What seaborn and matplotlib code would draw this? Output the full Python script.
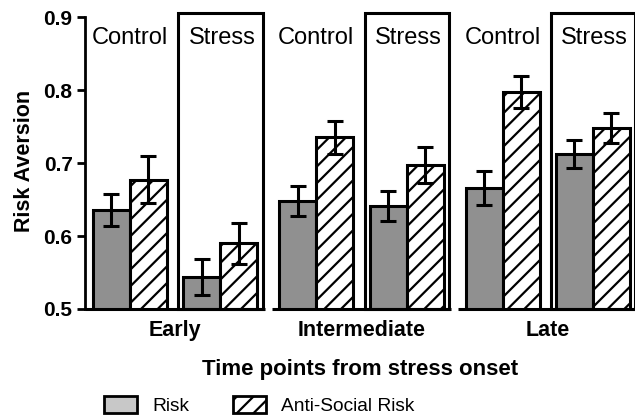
import numpy as np
import pandas as pd
import matplotlib
matplotlib.use("Agg")
import matplotlib.pyplot as plt
from matplotlib.patches import Rectangle, Patch
import seaborn as sns

# data
timepoints = ["Early", "Intermediate", "Late"]
conditions = ["Control", "Stress"]
measures = ["Risk", "Anti-Social Risk"]
risk_mean = [0.636, 0.544, 0.648, 0.641, 0.666, 0.712]
risk_err = [0.022, 0.025, 0.020, 0.021, 0.023, 0.019]
anti_mean = [0.677, 0.590, 0.735, 0.697, 0.797, 0.748]
anti_err = [0.032, 0.028, 0.022, 0.025, 0.022, 0.021]

# layout (bar width = 1 unit)
GAP = 5.035
OFF = 2.44
pair_pos = [g * GAP + c * OFF for g in range(3) for c in range(2)]

rows = []
for i, p in enumerate(pair_pos):
    rows.append({"pos": p, "measure": measures[0], "value": risk_mean[i], "err": risk_err[i]})
    rows.append({"pos": p, "measure": measures[1], "value": anti_mean[i], "err": anti_err[i]})
df = pd.DataFrame(rows)

sns.set_style("white")
plt.rcParams["font.family"] = ["Liberation Sans", "DejaVu Sans"]
plt.rcParams["hatch.linewidth"] = 1.6
plt.rcParams["text.color"] = "black"
plt.rcParams["axes.labelcolor"] = "black"
plt.rcParams["xtick.color"] = "black"
plt.rcParams["ytick.color"] = "black"

fig = plt.figure(figsize=(6.35, 4.18), dpi=100)
ax = fig.add_axes([85 / 635, 109 / 418, 550 / 635, 296 / 418])

gray = "#909090"
sns.barplot(data=df, x="pos", y="value", hue="measure", native_scale=True,
            dodge=True, width=2 / OFF, palette=[gray, "white"],
            edgecolor="black", linewidth=2.2, legend=False, ax=ax)

# hatch the anti-social bars and add error bars
for patch in ax.patches:
    if patch.get_facecolor()[0] > 0.9:
        patch.set_hatch("//")
bar_x = sorted([p.get_x() + p.get_width() / 2 for p in ax.patches])
risk_x = bar_x[0::2]
anti_x = bar_x[1::2]
ax.errorbar(risk_x, risk_mean, yerr=risk_err, fmt="none", ecolor="black",
            elinewidth=2.2, capsize=6, capthick=2.2, zorder=5)
ax.errorbar(anti_x, anti_mean, yerr=anti_err, fmt="none", ecolor="black",
            elinewidth=2.2, capsize=6, capthick=2.2, zorder=5)

ax.set_ylim(0.5, 0.9055)
ax.set_xlim(-1.216, 13.65)

# stress boxes and broken baselines
for g in range(3):
    sx = g * GAP + OFF
    ax.add_patch(Rectangle((sx - 1.13, 0.5), 2.28, 0.4055, fill=False,
                           edgecolor="black", linewidth=2.2, zorder=6,
                           clip_on=False))
    left = -1.216 if g == 0 else g * GAP - 1.2
    ax.plot([left, sx + 1.2], [0.5, 0.5], color="black", linewidth=2.2,
            zorder=7, clip_on=False, solid_capstyle="butt")
    for c in range(2):
        ax.text(g * GAP + c * OFF + (0.05 if c else 0), 0.871, conditions[c],
                ha="center", va="center", fontsize=17)

for side in ["top", "right", "bottom"]:
    ax.spines[side].set_visible(False)
ax.spines["left"].set_linewidth(2)
ax.spines["left"].set_color("black")
ax.spines["left"].set_bounds(0.5, 0.9)

ax.set_yticks([0.5, 0.6, 0.7, 0.8, 0.9])
ax.set_yticklabels(["0.5", "0.6", "0.7", "0.8", "0.9"], fontsize=15, fontweight="bold")
ax.tick_params(axis="y", length=6, width=2, left=True, pad=3)
ax.set_xticks([g * GAP + OFF / 2 for g in range(3)])
ax.set_xticklabels(timepoints, fontsize=15.5, fontweight="bold")
ax.tick_params(axis="x", length=0, pad=8)

ax.set_ylabel("Risk Aversion", fontsize=15.5, fontweight="bold", labelpad=6)
ax.set_xlabel("Time points from stress onset", fontsize=16, fontweight="bold", labelpad=13)

handles = [Patch(facecolor="#c8c8c8", edgecolor="black", linewidth=2, label="Risk"),
           Patch(facecolor="white", edgecolor="black", linewidth=2, hatch="//",
                 label="Anti-Social Risk")]
fig.legend(handles=handles, loc="center left", bbox_to_anchor=(0.137, 0.03),
           ncol=2, frameon=False, fontsize=13.8, handlelength=1.7, handleheight=1.0,
           columnspacing=2.3, handletextpad=0.8)

fig.savefig("out.png", dpi=100)
